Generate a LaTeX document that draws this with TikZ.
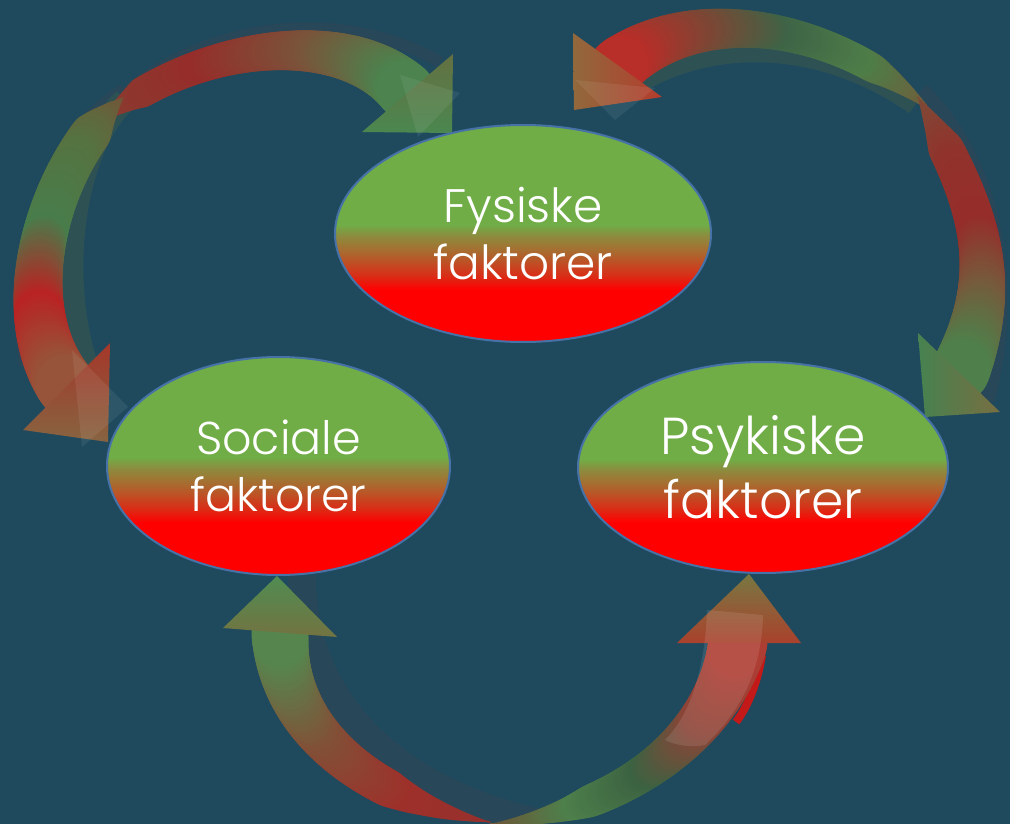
\documentclass[tikz,border=0pt]{standalone}
\usepackage{fontspec}
\newfontfamily\lbl{Poppins Light}
\usetikzlibrary{shapes.geometric}
\pgfdeclarelayer{bg}
\pgfdeclarelayer{arrows}
\pgfsetlayers{bg,arrows,main}
\definecolor{bgc}{RGB}{31,74,94}
\definecolor{eline}{RGB}{70,114,168}
\definecolor{ered}{RGB}{255,0,0}
\definecolor{eorng}{RGB}{215,48,24}
\definecolor{ebrn}{RGB}{168,108,48}
\definecolor{eolv}{RGB}{140,140,62}
\definecolor{egrn}{RGB}{112,173,71}
\definecolor{backc}{RGB}{40,71,89}
\definecolor{backg}{RGB}{46,82,84}
\definecolor{sliver}{RGB}{195,25,25}
% arrow colour stops
\definecolor{A0}{RGB}{135,62,50}\definecolor{A1}{RGB}{150,45,42}\definecolor{A2}{RGB}{122,84,58}\definecolor{A3}{RGB}{75,132,78}
\definecolor{B0}{RGB}{115,85,55}\definecolor{B1}{RGB}{85,115,65}\definecolor{B2}{RGB}{72,125,75}\definecolor{B3}{RGB}{185,35,35}\definecolor{B4}{RGB}{150,85,58}
\definecolor{C0}{RGB}{115,90,58}\definecolor{C1}{RGB}{78,125,72}\definecolor{C2}{RGB}{62,100,70}\definecolor{C3}{RGB}{125,70,52}\definecolor{C4}{RGB}{185,45,40}
\definecolor{D0}{RGB}{125,75,55}\definecolor{D1}{RGB}{145,50,44}\definecolor{D2}{RGB}{150,45,42}\definecolor{D3}{RGB}{120,88,58}\definecolor{D4}{RGB}{78,128,75}
\definecolor{E0}{RGB}{150,48,45}\definecolor{E1}{RGB}{158,48,42}\definecolor{E2}{RGB}{130,80,55}\definecolor{E3}{RGB}{85,135,78}
\definecolor{F0}{RGB}{110,85,55}\definecolor{F1}{RGB}{78,128,75}\definecolor{F2}{RGB}{60,98,65}\definecolor{F3}{RGB}{140,68,55}\definecolor{F4}{RGB}{175,62,52}
\pgfdeclareverticalshading{ellgrad}{100bp}{color(0bp)=(ered); color(37bp)=(ered); color(40.5bp)=(eorng); color(46bp)=(ebrn); color(49.5bp)=(eolv); color(52bp)=(egrn); color(100bp)=(egrn)}
\newcommand\setbez[8]{\def\bax{#1}\def\bay{#2}\def\bbx{#3}\def\bby{#4}\def\bcx{#5}\def\bcy{#6}\def\bdx{#7}\def\bdy{#8}}
\newcommand\bezpt[3]{%
  \pgfmathsetmacro#2{(1-#1)^3*\bax+3*(1-#1)^2*#1*\bbx+3*(1-#1)*#1^2*\bcx+#1^3*\bdx}%
  \pgfmathsetmacro#3{(1-#1)^3*\bay+3*(1-#1)^2*#1*\bby+3*(1-#1)*#1^2*\bcy+#1^3*\bdy}}
% #1 colour prefix, #2 pieces, #3 w0, #4 w1, #5 taper
\newcommand\gband[5]{%
  \foreach \gk in {0,...,89}{%
    \pgfmathsetmacro\gta{\gk/90}%
    \pgfmathsetmacro\gtb{(\gk+1)/90}%
    \pgfmathsetmacro\gtm{(\gk+0.5)/90}%
    \bezpt{\gta}{\gxa}{\gya}%
    \bezpt{\gtb}{\gxb}{\gyb}%
    \pgfmathsetmacro\gu{\gtm*#2}%
    \pgfmathtruncatemacro\gj{floor(\gu)}%
    \pgfmathtruncatemacro\gjj{\gj+1}%
    \pgfmathtruncatemacro\gpc{round(100*(1-\gu+\gj))}%
    \pgfmathsetmacro\gw{max(1.5,(#3+(#4-#3)*\gtm^2)*min(1,\gtm/#5))}%
    \draw[line width=\gw pt, line cap=round, color={#1\gj!\gpc!#1\gjj}] (\gxa,\gya) -- (\gxb,\gyb);
  }}
\tikzset{
  ell/.style={ellipse, draw=eline, line width=2pt, shading=ellgrad, text=white, align=center, inner sep=0pt},
  backband/.style={line width=#1, color=backc},
  ghost/.style={fill=white, fill opacity=0.07},
}
\begin{document}
\begin{tikzpicture}[x=1pt,y=-1pt]
\begin{pgfonlayer}{bg}
  \fill[bgc] (0,0) rectangle (1010,824);
\end{pgfonlayer}
\useasboundingbox (0,0) rectangle (1010,824);
% ellipses
\node[ell, minimum width=376pt, minimum height=217pt, font=\lbl\fontsize{47}{57}\selectfont] (fys) at (523,233.5) {Fysiske\\faktorer};
\node[ell, minimum width=343pt, minimum height=218pt, font=\lbl\fontsize{46}{57}\selectfont] (soc) at (278.5,466) {Sociale\\faktorer};
\node[ell, minimum width=370pt, minimum height=211pt, font=\lbl\fontsize{52}{64}\selectfont] (psy) at (763,467.5) {Psykiske\\faktorer};
% arrow end coordinates
\coordinate (tipA) at (452,133); \coordinate (a1) at (362,132); \coordinate (a2) at (453,54);
\coordinate (tipB) at (108,442); \coordinate (b1) at (23,430);  \coordinate (b2) at (110,343);
\coordinate (tipC) at (574,110); \coordinate (c1) at (573,33);  \coordinate (c2) at (662,97);
\coordinate (tipD) at (925,417); \coordinate (d1) at (918,333); \coordinate (d2) at (1000,412);
\coordinate (tipE) at (277,576); \coordinate (e1) at (223,628); \coordinate (e2) at (337,637);
\coordinate (tipF) at (749,574); \coordinate (f1) at (677,643); \coordinate (f2) at (801,643);
\begin{pgfonlayer}{arrows}
  % back bands
  \draw[backband=18pt] (125,92) .. controls (55,135) and (10,240) .. (28,365);
  \draw[backband=12pt] (118,100) .. controls (190,30) and (330,0) .. (440,62);
  \draw[backband=24pt, color=backg] (125,100) .. controls (70,150) and (50,300) .. (100,400);
  \draw[backband=20pt, color=backg] (915,105) .. controls (830,45) and (720,32) .. (630,88);
  \draw[backband=20pt] (920,92) .. controls (990,160) and (1015,280) .. (985,400);
  \draw[backband=28pt] (302,576) .. controls (302,700) and (392,790) .. (540,823);
  \draw[line width=8pt, color=sliver] (736,722) .. controls (749,705) and (758,680) .. (762,655);
  % top-left: to Fysiske
  \setbez{100}{122}{190}{45}{342}{23}{407}{92}\gband{A}{3}{30}{58}{0.15}
  \shade[top color={rgb,255:red,100;green,112;blue,65}, bottom color={rgb,255:red,75;green,135;blue,80}] (a1) -- (tipA) -- (a2) -- cycle;
  \fill[ghost] (400,75) -- (460,93) -- (418,137) -- cycle;
  % top-left: to Sociale
  \setbez{123}{98}{48}{164}{7}{307}{67}{387}\gband{B}{4}{40}{60}{0.16}
  \shade[top color={rgb,255:red,165;green,55;blue,42}, bottom color={rgb,255:red,135;green,100;blue,65}] (b1) -- (tipB) -- (b2) -- cycle;
  \fill[ghost] (72,350) -- (128,407) -- (82,447) -- cycle;
  % top-right: to Fysiske
  \setbez{932}{112}{840}{25}{700}{0}{618}{66}\gband{C}{4}{28}{57}{0.2}
  \shade[left color={rgb,255:red,145;green,105;blue,60}, right color={rgb,255:red,180;green,60;blue,45}] (c1) -- (tipC) -- (c2) -- cycle;
  \fill[ghost] (575,80) -- (615,120) -- (655,88) -- cycle;
  % right: to Psykiske
  \setbez{918}{97}{978}{201}{1004}{271}{960}{372}\gband{D}{4}{35}{59}{0.18}
  \shade[left color={rgb,255:red,70;green,130;blue,80}, right color={rgb,255:red,120;green,110;blue,65}] (d1) -- (tipD) -- (d2) -- cycle;
  % bottom-left: to Sociale
  \setbez{490}{822}{390}{805}{282}{743}{280}{633}\gband{E}{3}{35}{57}{0.35}
  \shade[top color={rgb,255:red,80;green,140;blue,82}, bottom color={rgb,255:red,115;green,115;blue,65}] (e1) -- (tipE) -- (e2) -- cycle;
  % bottom-right: to Psykiske
  \setbez{490}{824}{610}{815}{715}{745}{738}{643}\gband{F}{4}{30}{59}{0.3}
  \shade[top color={rgb,255:red,120;green,120;blue,65}, bottom color={rgb,255:red,170;green,65;blue,45}] (f1) -- (tipF) -- (f2) -- cycle;
  \fill[white, fill opacity=0.1] (707,610) -- (763,615) .. controls (762,660) and (748,705) .. (705,745) .. controls (690,748) and (675,745) .. (665,740) .. controls (690,715) and (705,670) .. (707,610) -- cycle;
\end{pgfonlayer}
\end{tikzpicture}
\end{document}
